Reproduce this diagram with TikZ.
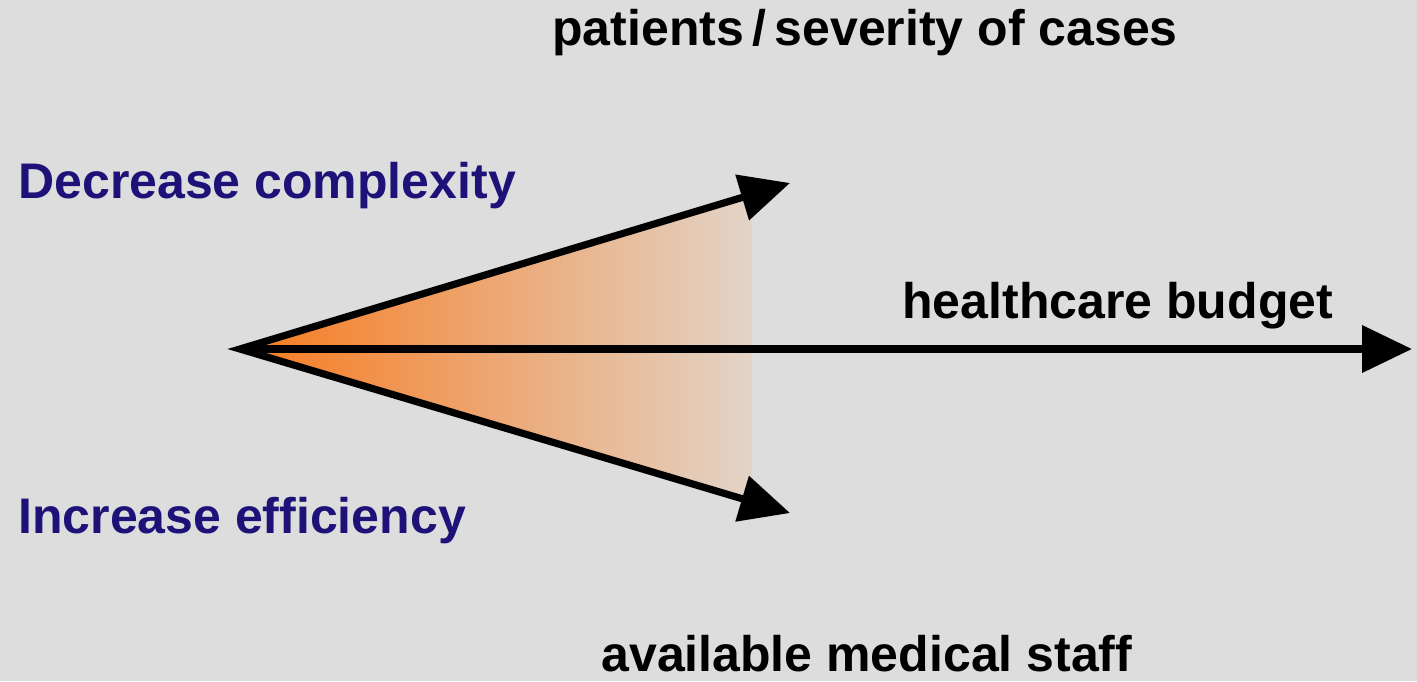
\documentclass[tikz,border=0pt]{standalone}
\usepackage{fontspec}
\setmainfont{Liberation Sans}
\usetikzlibrary{arrows.meta,positioning}
\definecolor{bggray}{RGB}{221,221,221}
\definecolor{navytext}{RGB}{30,18,120}
\definecolor{fanorange}{RGB}{247,122,30}
\definecolor{fanmid}{RGB}{238,158,98}
\definecolor{fanfade}{RGB}{226,212,200}

\begin{document}
\begin{tikzpicture}[x=0.5pt,y=-0.5pt,
  >={Triangle[length=25pt,width=23pt]},
  axis/.style={line width=3.6pt},
  lbl/.style={font=\fontsize{25}{30}\selectfont\bfseries,inner sep=0pt,anchor=base west}]
  \fill[bggray] (0,0) rectangle (1417,681); % background
  \useasboundingbox (0,0) rectangle (1417,681);

  \coordinate (apex) at (240,349);
  \coordinate (upTip) at (790,183);
  \coordinate (downTip) at (790,513);
  \coordinate (budgetTip) at (1412,349);

  \shade[left color=fanorange,middle color=fanmid,right color=fanfade] (apex) -- (752,194) -- (752,504) -- cycle; % orange fan

  \draw[axis,<->,line join=miter] (upTip) -- (apex) -- (downTip); % the two side arrows
  \draw[axis,->] (apex) -- (budgetTip); % middle arrow

  \node[lbl] (cases) at (552,45) {patients\,/\,severity of cases};
  \node[lbl,text=navytext] (complexity) at (18,198) {Decrease complexity};
  \node[lbl] (budget) at (902,318) {healthcare budget};
  \node[lbl,text=navytext] (efficiency) at (18,533) {Increase efficiency};
  \node[lbl] (staff) at (601,671) {available medical staff};
\end{tikzpicture}
\end{document}
